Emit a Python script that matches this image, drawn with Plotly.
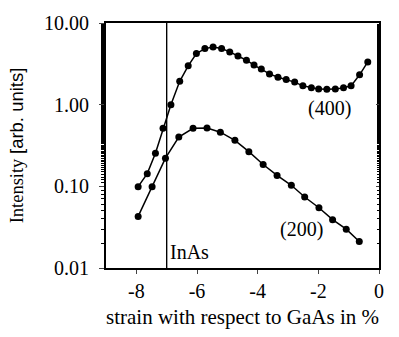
import plotly.graph_objects as go
import math

x400 = [-7.94, -7.64, -7.37, -7.12, -6.86, -6.57, -6.29, -6.02, -5.74, -5.47,
        -5.19, -4.92, -4.65, -4.37, -4.12, -3.88, -3.61, -3.33, -3.06, -2.78,
        -2.51, -2.23, -1.99, -1.72, -1.44, -1.17, -0.92, -0.64, -0.37]
y400 = [0.099, 0.143, 0.254, 0.514, 1.0, 1.93, 2.99, 4.22, 4.86, 5.08,
        4.86, 4.43, 3.94, 3.50, 3.05, 2.74, 2.38, 2.17, 2.04, 1.89,
        1.70, 1.61, 1.55, 1.54, 1.55, 1.61, 1.70, 2.32, 3.34]

x200 = [-7.94, -7.48, -7.04, -6.60, -6.13, -5.67, -5.23, -4.75, -4.29, -3.82,
        -3.36, -2.89, -2.45, -1.98, -1.53, -1.08, -0.65]
y200 = [0.0428, 0.099, 0.221, 0.402, 0.514, 0.518, 0.460, 0.366, 0.266, 0.185,
        0.136, 0.103, 0.074, 0.0547, 0.0391, 0.0299, 0.0211]

xticks = [-8, -6, -4, -2, 0]
xticklabels = ["-8", "-6", "-4", "-2", "0"]
yticks = [0.01, 0.1, 1, 10]
yticklabels = ["0.01", "0.10", "1.00", "10.00"]
inas_x = -7

SERIF = "Liberation Serif"

fig = go.Figure()
for xs, ys in [(x400, y400), (x200, y200)]:
    fig.add_trace(go.Scatter(x=xs, y=ys, mode="lines+markers",
                             line=dict(color="black", width=1.5),
                             marker=dict(color="black", size=7),
                             showlegend=False))
# invisible trace for the right-side mirror axis
fig.add_trace(go.Scatter(x=[inas_x], y=[1], yaxis="y2", mode="markers",
                         marker=dict(opacity=0), showlegend=False, hoverinfo="skip"))

fig.add_shape(type="line", x0=inas_x, x1=inas_x, y0=0, y1=1, yref="paper",
              line=dict(color="black", width=1.4))

fig.add_annotation(x=inas_x, y=math.log10(0.0155), text="InAs", showarrow=False,
                   xanchor="left", yanchor="middle", xshift=1,
                   font=dict(family=SERIF, size=20, color="black"))
fig.add_annotation(x=-1.63, y=math.log10(0.9), text="(400)", showarrow=False,
                   font=dict(family=SERIF, size=20, color="black"))
fig.add_annotation(x=-2.55, y=math.log10(0.03), text="(200)", showarrow=False,
                   font=dict(family=SERIF, size=20, color="black"))

fig.update_layout(
    width=399, height=337,
    margin=dict(l=106, r=19.5, t=16, b=69),
    plot_bgcolor="white", paper_bgcolor="white",
    font=dict(family=SERIF, size=20, color="black"),
    xaxis=dict(range=[-9, 0], tickvals=xticks, ticktext=xticklabels,
               ticks="outside", ticklen=4,
               tickwidth=1, showline=True, linewidth=2, linecolor="black",
               mirror=True, showgrid=False, zeroline=False,
               tickfont=dict(family=SERIF, size=20),
               title=dict(text="strain with respect to GaAs in %", standoff=8,
                          font=dict(family=SERIF, size=21))),
    yaxis=dict(type="log", range=[-2, 1], tickvals=yticks, ticktext=yticklabels,
               ticks="outside", ticklen=5, tickwidth=1, showline=True,
               linewidth=2, linecolor="black", mirror=True, showgrid=False,
               zeroline=False, tickfont=dict(family=SERIF, size=20),
               ticklabelstandoff=6,
               minor=dict(ticks="outside", ticklen=3, tickwidth=1, showgrid=False,
                          tickcolor="black"),
               title=dict(text="Intensity <span style='font-family:Liberation Sans'>[arb. units]</span>",
                          standoff=16, font=dict(family=SERIF, size=18.5))),
    yaxis2=dict(type="log", range=[-2, 1], overlaying="y", side="right",
                showticklabels=False, ticks="inside", ticklen=3, tickwidth=1,
                tickvals=yticks, showgrid=False, zeroline=False, showline=False,
                minor=dict(ticks="inside", ticklen=2, tickwidth=1, showgrid=False,
                           tickcolor="black")),
)

fig.write_html("out.html")
